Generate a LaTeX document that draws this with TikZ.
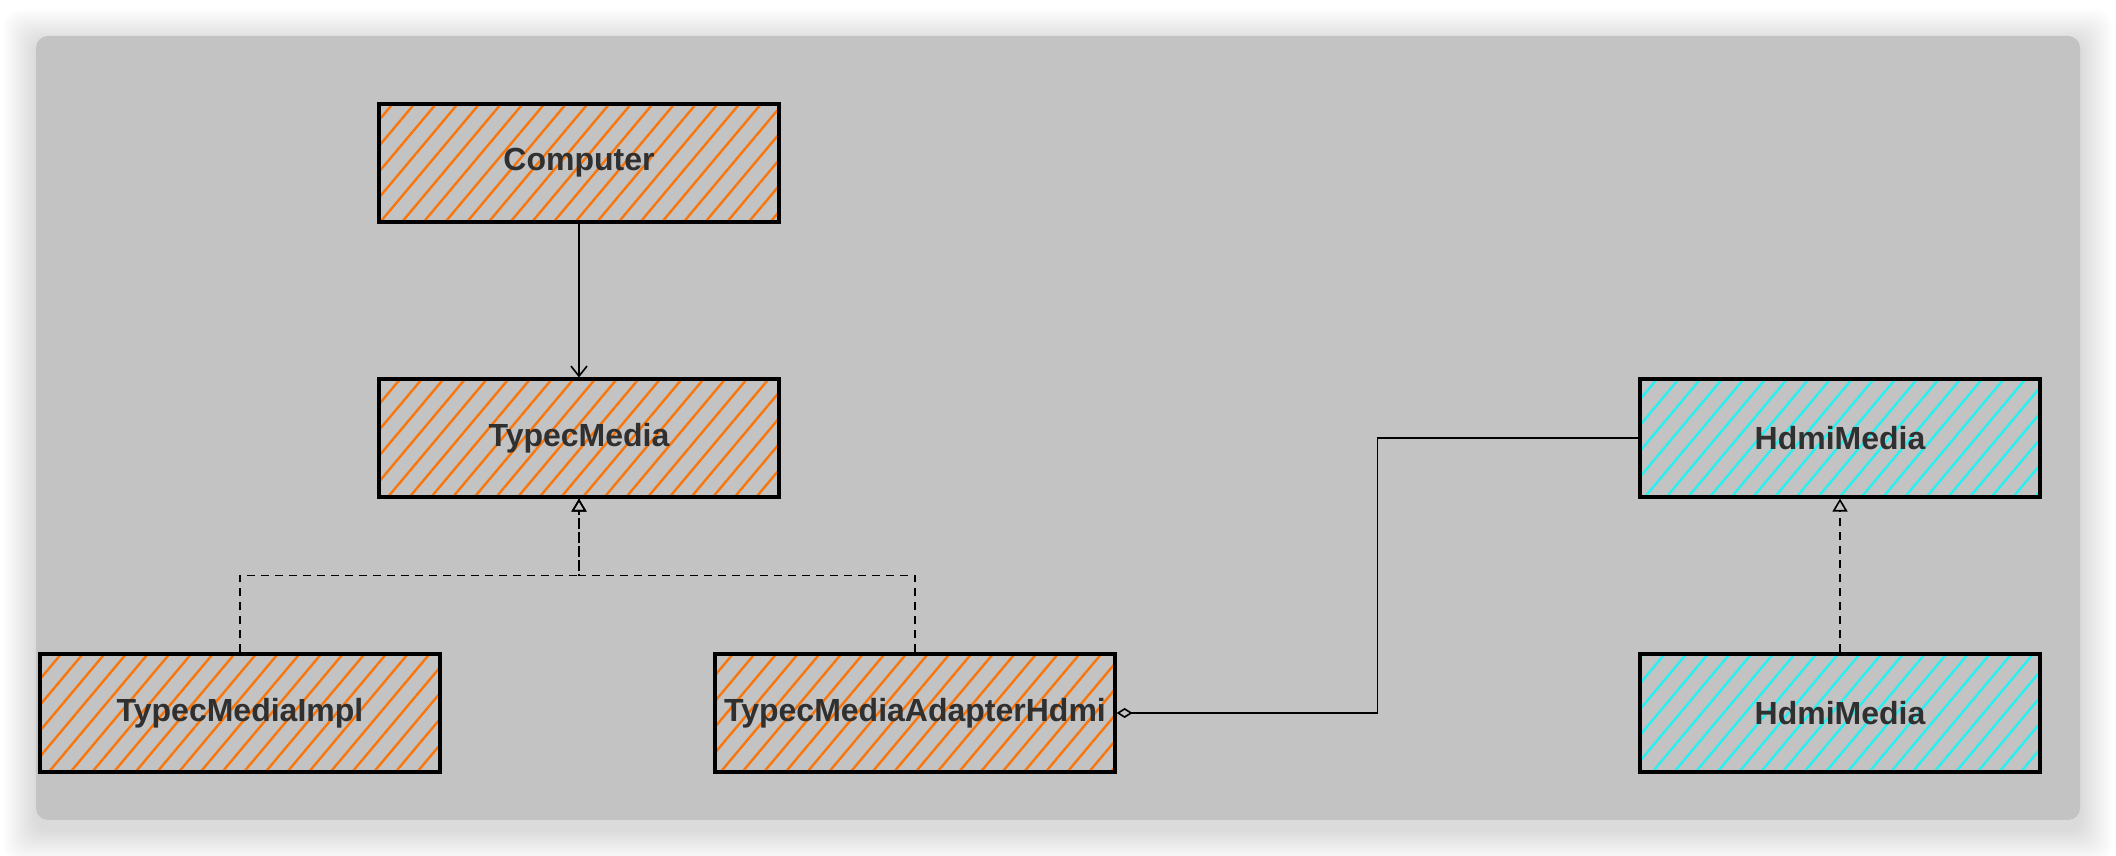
\documentclass[tikz,border=0pt]{standalone}
\usepackage{fontspec}
\setmainfont{Liberation Sans}
\usetikzlibrary{arrows.meta,positioning,calc,patterns.meta}

\definecolor{panelgray}{RGB}{195,195,195}
\definecolor{hatchorange}{RGB}{250,118,10}
\definecolor{hatchcyan}{RGB}{40,240,240}
\definecolor{labelgray}{RGB}{48,48,48}

\begin{document}
\begin{tikzpicture}[
    x=0.5pt, y=0.5pt,
    cls/.style={draw, line width=1.6pt, minimum width=200pt, minimum height=59pt, inner sep=0pt, font=\fontsize{16}{19}\selectfont\bfseries, text=labelgray},
    typecbox/.style={cls, pattern={Lines[angle=50, distance=8.3pt, line width=1.2pt]}, pattern color=hatchorange},
    hdmibox/.style={cls, pattern={Lines[angle=50, distance=8.3pt, line width=1.2pt]}, pattern color=hatchcyan},
    usewire/.style={line width=0.8pt, -{Straight Barb[length=5pt, width=8pt]}},
    realizewire/.style={line width=0.8pt, dash pattern=on 4pt off 3pt, -{Triangle[open, length=6.5pt, width=7.5pt]}},
    aggwire/.style={line width=0.8pt, {Diamond[open, length=8pt, width=5pt]}-}
  ]
  \useasboundingbox[fill=white] (0,0) rectangle (2116,856);

  % panel and its soft shadow
  \foreach \i in {1,...,18}
    \fill[black, opacity=0.007, rounded corners=8pt] (36-1.8*\i,36-1.8*\i-10) rectangle (2080+1.8*\i,820+1.8*\i-6);
  \fill[panelgray, rounded corners=6pt] (36,36) rectangle (2080,820);

  \node[typecbox] (computer) at (579,693) {Computer};
  \node[typecbox] (typecmedia) at (579,418) {TypecMedia};
  \node[typecbox] (impl) at (240,143) {TypecMediaImpl};
  \node[typecbox] (adapter) at (915,143) {TypecMediaAdapterHdmi};
  \node[hdmibox] (hdmimedia) at (1840,418) {HdmiMedia};
  \node[hdmibox] (hdmiimpl) at (1840,143) {HdmiMedia};

  \draw[usewire] (computer) -- (typecmedia);

  \coordinate (join) at ($(typecmedia.south)!.5!(typecmedia.south |- impl.north)$);
  \draw[realizewire] (impl.north) |- (join) -- (typecmedia.south);
  \draw[realizewire] (adapter.north) |- (join) -- (typecmedia.south);
  \draw[realizewire] (hdmiimpl) -- (hdmimedia);

  \draw[aggwire] (adapter.east) -| ($(adapter.east)!.5!(hdmimedia.west)$) |- (hdmimedia.west);
\end{tikzpicture}
\end{document}
